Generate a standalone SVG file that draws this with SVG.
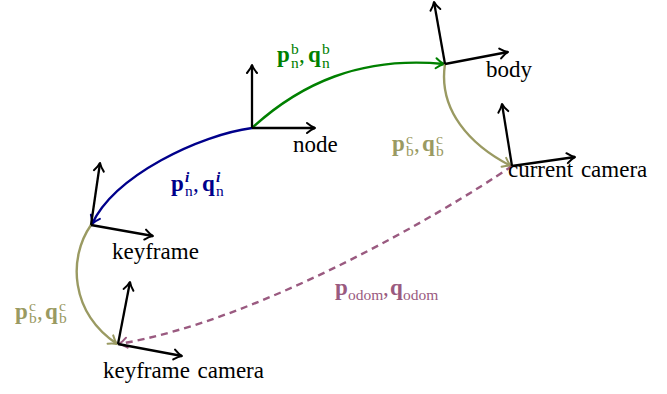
<svg xmlns="http://www.w3.org/2000/svg" width="667" height="394" viewBox="0 0 667 394">
<style>
  text { font-family: "Liberation Serif", "Times New Roman", serif; }
  .lbl { font-size: 23px; fill: #000; word-spacing: 2px; }
  .axis { stroke: #000; stroke-width: 2.3; fill: none; marker-end: url(#ak); }
  .edge { fill: none; stroke-width: 2.4; }
  .m { font-size: 23px; }
  .b { font-weight: bold; }
  .s { font-size: 15.5px; }
  .green { stroke: #008000; marker-end: url(#ag); }
  .blue { stroke: #00008b; marker-end: url(#ab); }
  .olive { stroke: #9a9a62; marker-end: url(#ao); }
  .purple { stroke: #9a5a80; stroke-dasharray: 7 5; marker-end: url(#ap); }
</style>
<defs>
  <marker id="ak" viewBox="-11 -7 13 14" markerWidth="13" markerHeight="14" markerUnits="userSpaceOnUse" refX="0" refY="0" orient="auto" overflow="visible">
    <path d="M-8,-5 Q-3.5,-1.2 0,0 Q-3.5,1.2 -8,5" fill="none" stroke="#000" stroke-width="2" stroke-linecap="round" stroke-linejoin="round"/>
  </marker>
  <marker id="ag" viewBox="-11 -7 13 14" markerWidth="13" markerHeight="14" markerUnits="userSpaceOnUse" refX="0" refY="0" orient="auto" overflow="visible">
    <path d="M-8,-5 Q-3.5,-1.2 0,0 Q-3.5,1.2 -8,5" fill="none" stroke="#008000" stroke-width="2" stroke-linecap="round" stroke-linejoin="round"/>
  </marker>
  <marker id="ab" viewBox="-11 -7 13 14" markerWidth="13" markerHeight="14" markerUnits="userSpaceOnUse" refX="0" refY="0" orient="auto" overflow="visible">
    <path d="M-8,-5 Q-3.5,-1.2 0,0 Q-3.5,1.2 -8,5" fill="none" stroke="#00008b" stroke-width="2" stroke-linecap="round" stroke-linejoin="round"/>
  </marker>
  <marker id="ao" viewBox="-11 -7 13 14" markerWidth="13" markerHeight="14" markerUnits="userSpaceOnUse" refX="0" refY="0" orient="auto" overflow="visible">
    <path d="M-8,-5 Q-3.5,-1.2 0,0 Q-3.5,1.2 -8,5" fill="none" stroke="#9a9a62" stroke-width="2" stroke-linecap="round" stroke-linejoin="round"/>
  </marker>
  <marker id="ap" viewBox="-11 -7 13 14" markerWidth="13" markerHeight="14" markerUnits="userSpaceOnUse" refX="0" refY="0" orient="auto" overflow="visible">
    <path d="M-8,-5 Q-3.5,-1.2 0,0 Q-3.5,1.2 -8,5" fill="none" stroke="#9a5a80" stroke-width="2" stroke-linecap="round" stroke-linejoin="round"/>
  </marker>
</defs>

<g id="connectors">
  <path class="edge green" d="M252,128 C300,84 360,56 444,64"/>
  <path class="edge blue" d="M252,128 C200,135 115,175 92,224"/>
  <path class="edge olive" d="M445,64 C438,110 470,145 511,166"/>
  <path class="edge olive" d="M91,225 C68,258 70,312 117,344"/>
  <path class="edge purple" d="M512,166 C440,215 260,320 119,344"/>

  <text class="m" fill="#008000"><tspan class="b" x="277" y="61.5">p</tspan><tspan class="s" x="291" y="53.5">b</tspan><tspan class="s" x="291" y="67.5">n</tspan><tspan x="299" y="61.5">,</tspan><tspan class="b" x="308" y="61.5">q</tspan><tspan class="s" x="322" y="53.5">b</tspan><tspan class="s" x="322" y="67.5">n</tspan></text>

  <text class="m" fill="#00008b"><tspan class="b" x="171" y="191">p</tspan><tspan class="s b" font-style="italic" x="185" y="182">i</tspan><tspan class="s" x="185" y="196">n</tspan><tspan x="193" y="191">,</tspan><tspan class="b" x="202" y="191">q</tspan><tspan class="s b" font-style="italic" x="216" y="182">i</tspan><tspan class="s" x="216" y="196">n</tspan></text>

  <text class="m" fill="#9a9a62"><tspan class="b" x="392" y="151">p</tspan><tspan class="s" x="406" y="143.5">c</tspan><tspan class="s" x="406" y="155.5">b</tspan><tspan x="414" y="151">,</tspan><tspan class="b" x="422" y="151">q</tspan><tspan class="s" x="436" y="143.5">c</tspan><tspan class="s" x="436" y="155.5">b</tspan></text>

  <text class="m" fill="#9a9a62"><tspan class="b" x="15" y="318.5">p</tspan><tspan class="s" x="29" y="311">c</tspan><tspan class="s" x="29" y="323">b</tspan><tspan x="37" y="318.5">,</tspan><tspan class="b" x="45" y="318.5">q</tspan><tspan class="s" x="59" y="311">c</tspan><tspan class="s" x="59" y="323">b</tspan></text>

  <text class="m" fill="#9a5a80"><tspan class="b" x="335" y="295">p</tspan><tspan class="s" x="348" y="300">odom</tspan><tspan x="383" y="295">,</tspan><tspan class="b" x="390" y="295">q</tspan><tspan class="s" x="403" y="300">odom</tspan></text>
</g>

<g id="node">
  <line class="axis" x1="252" y1="128" x2="252" y2="65"/>
  <line class="axis" x1="252" y1="128" x2="315" y2="128"/>
  <text class="lbl" x="293" y="152">node</text>
</g>

<g id="body">
  <line class="axis" x1="445" y1="64" x2="434" y2="2"/>
  <line class="axis" x1="445" y1="64" x2="508" y2="52"/>
  <text class="lbl" x="486" y="77">body</text>
</g>

<g id="current-camera">
  <line class="axis" x1="512" y1="166" x2="502" y2="104"/>
  <line class="axis" x1="512" y1="166" x2="575" y2="157"/>
  <text class="lbl" x="508" y="177">current camera</text>
</g>

<g id="keyframe">
  <line class="axis" x1="91" y1="225" x2="100" y2="163"/>
  <line class="axis" x1="91" y1="225" x2="153" y2="236"/>
  <text class="lbl" x="112" y="259">keyframe</text>
</g>

<g id="keyframe-camera">
  <line class="axis" x1="118" y1="344" x2="130" y2="282"/>
  <line class="axis" x1="118" y1="344" x2="182" y2="356"/>
  <text class="lbl" x="103" y="378">keyframe camera</text>
</g>
</svg>
